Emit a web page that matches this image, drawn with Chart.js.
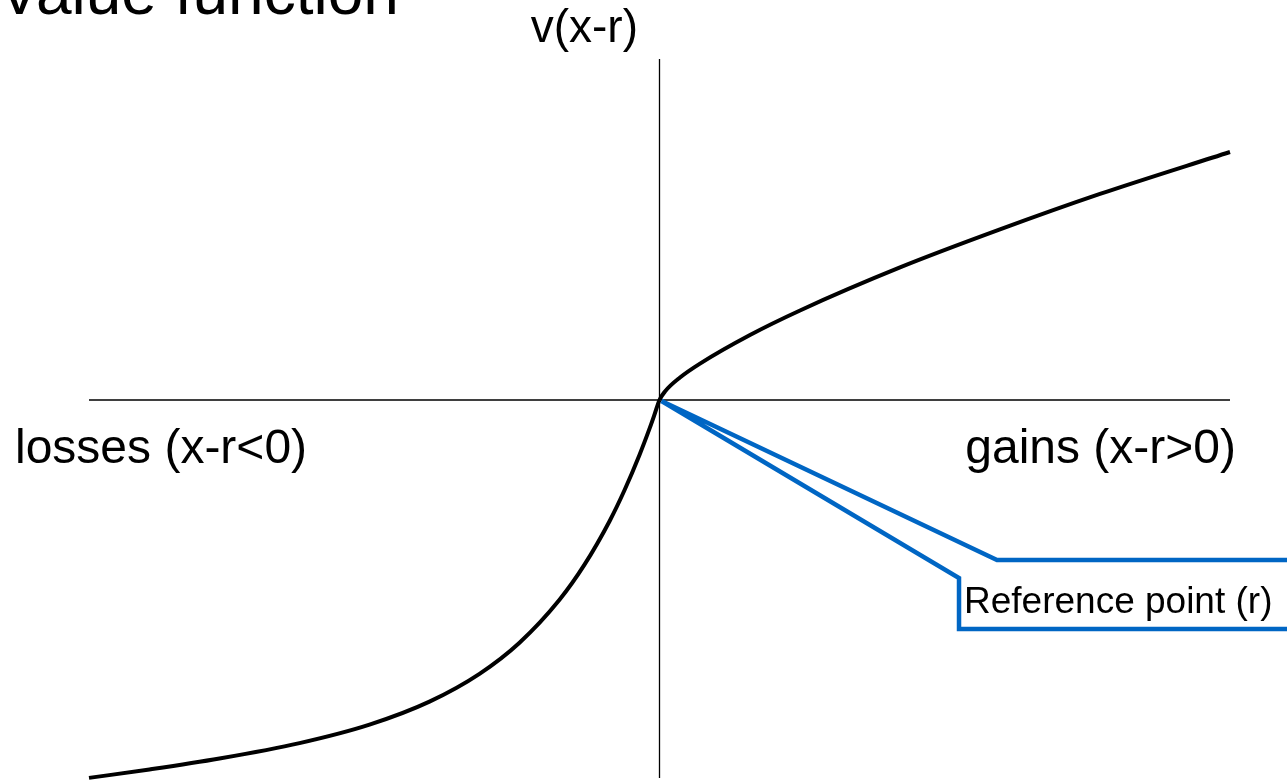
<!DOCTYPE html>
<html>
<head>
<meta charset="utf-8">
<script src="https://cdn.jsdelivr.net/npm/chart.js@4.4.1/dist/chart.umd.min.js"></script>
<style>
  html, body { margin: 0; padding: 0; background: #ffffff; }
  #wrap { width: 1287px; height: 782px; position: relative; overflow: hidden; }
</style>
</head>
<body>
<div id="wrap"><canvas id="c" width="1287" height="782"></canvas></div>
<script>
// ---- Data (arbitrary units) ----
const lossX = [-100, -89.40, -77.13, -63.10, -50.83, -40.32, -31.55, -24.54, -17.53, -13.15, -8.76, -6.14, -3.51, -1.75, -0.88, 0];
const lossY = [-66.24, -64.76, -62.84, -60.14, -56.90, -52.87, -48.00, -42.55, -35.02, -28.87, -21.25, -15.83, -9.64, -5.03, -2.57, 0];
const gainX = [0, 0.96, 3.59, 7.10, 15.86, 24.63, 42.16, 59.68, 77.21, 100];
const gainY = [0, 1.49, 3.94, 6.38, 11.39, 15.69, 23.23, 29.89, 36.11, 43.47];

const titleText = "Value function";
const yAxisLabel = "v(x-r)";
const lossLabel = "losses (x-r<0)";
const gainLabel = "gains (x-r>0)";
const calloutText = "Reference point (r)";

// reference point and callout outline (data units)
const refPoint = { x: 0, y: 0 };
const calloutUpperX = [59.16, 112.2];
const calloutUpperY = [-28.05, -28.05];
const calloutLowerX = [52.50, 52.50, 112.2];
const calloutLowerY = [-31.20, -40.14, -40.14];

const FONT = '"Liberation Sans", Arial, Helvetica, sans-serif';

const points = [];
lossX.forEach((x, i) => points.push({ x: x, y: lossY[i] }));
gainX.forEach((x, i) => { if (i > 0) points.push({ x: x, y: gainY[i] }); });

const axesPlugin = {
  id: 'axesCross',
  beforeDatasetsDraw(chart) {
    const { ctx, chartArea, scales } = chart;
    const x0 = scales.x.getPixelForValue(0);
    const y0 = scales.y.getPixelForValue(0);
    ctx.save();
    ctx.strokeStyle = '#000000';
    ctx.lineWidth = 1.3;
    ctx.beginPath();
    ctx.moveTo(chartArea.left, y0);
    ctx.lineTo(chartArea.right, y0);
    ctx.moveTo(x0, chartArea.top);
    ctx.lineTo(x0, chartArea.bottom);
    ctx.stroke();
    ctx.restore();
  },
  afterDraw(chart) {
    const { ctx, scales } = chart;
    const sx = scales.x, sy = scales.y;
    ctx.save();
    // callout
    const tx = sx.getPixelForValue(refPoint.x), ty = sy.getPixelForValue(refPoint.y);
    const up = calloutUpperX.map((v, i) => [sx.getPixelForValue(v), sy.getPixelForValue(calloutUpperY[i])]);
    const lo = calloutLowerX.map((v, i) => [sx.getPixelForValue(v), sy.getPixelForValue(calloutLowerY[i])]);
    ctx.fillStyle = '#ffffff';
    ctx.beginPath();
    ctx.moveTo(tx, ty);
    up.forEach(p => ctx.lineTo(p[0], p[1]));
    for (let i = lo.length - 1; i >= 0; i--) ctx.lineTo(lo[i][0], lo[i][1]);
    ctx.closePath();
    ctx.fill();
    ctx.strokeStyle = '#0066C4';
    ctx.lineWidth = 4.5;
    ctx.lineJoin = 'miter';
    ctx.beginPath();
    ctx.moveTo(tx + 2, ty + 1);
    up.forEach(p => ctx.lineTo(p[0], p[1]));
    ctx.moveTo(tx + 2, ty + 1);
    lo.forEach(p => ctx.lineTo(p[0], p[1]));
    ctx.stroke();

    // texts
    ctx.fillStyle = '#000000';
    ctx.textBaseline = 'alphabetic';
    ctx.font = '64px ' + FONT;
    ctx.textAlign = 'left';
    ctx.fillText(titleText, -2, 14);

    ctx.font = '46px ' + FONT;
    ctx.textAlign = 'right';
    ctx.fillText(yAxisLabel, 638, 42);

    ctx.font = '48px ' + FONT;
    ctx.textAlign = 'left';
    ctx.fillText(lossLabel, 15, 463);
    ctx.textAlign = 'right';
    ctx.fillText(gainLabel, 1236, 463);

    ctx.font = '37px ' + FONT;
    ctx.textAlign = 'left';
    ctx.fillText(calloutText, 964, 613);
    ctx.restore();
  }
};

new Chart(document.getElementById('c'), {
  type: 'line',
  data: {
    datasets: [{
      data: points,
      borderColor: '#000000',
      borderWidth: 4,
      pointRadius: 0,
      fill: false,
      cubicInterpolationMode: 'monotone',
      clip: false
    }]
  },
  options: {
    responsive: false,
    animation: false,
    events: [],
    layout: { padding: { left: 89, right: 57, top: 59, bottom: 4 } },
    plugins: { legend: { display: false }, tooltip: { enabled: false }, title: { display: false } },
    scales: {
      x: { type: 'linear', min: -100, max: 100, display: false },
      y: { type: 'linear', min: -66.26, max: 59.77, display: false }
    }
  },
  plugins: [axesPlugin]
});
</script>
</body>
</html>
